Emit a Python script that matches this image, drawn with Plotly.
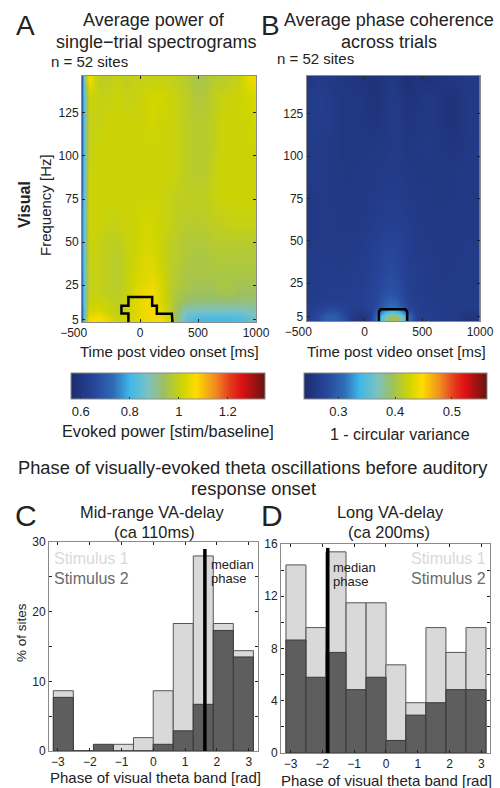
import plotly.graph_objects as go

# ---- data ----
freq_rows = [5, 10, 15, 20, 25, 30, 40, 50, 60, 75, 90, 105, 120, 135, 145]
time_a = [-496, -478, -440, -350, -275, -200, -125, -50, 25, 100, 175, 250, 325, 400, 475, 550, 625, 700, 775, 850, 925, 990]
power = [
 [.70, .94, 1.06, 1.07, 1.04, 1.01, 1.02, 1.03, 1.05, 1.06, 1.06, 1.03, .92, .84, .82, .81, .81, .81, .81, .82, .84, .86],
 [.72, .90, 1.02, 1.03, 1.01, .99, 1.01, 1.03, 1.05, 1.06, 1.04, 1.00, .93, .88, .87, .87, .87, .87, .87, .87, .88, .89],
 [.74, .90, 1.01, 1.01, 1.00, .99, 1.00, 1.03, 1.05, 1.06, 1.03, .99, .95, .93, .92, .92, .92, .92, .92, .92, .92, .92],
 [.74, .90, 1.00, 1.00, .99, .99, 1.00, 1.03, 1.05, 1.06, 1.03, .99, .96, .95, .94, .94, .94, .95, .95, .94, .94, .94],
 [.74, .90, 1.00, 1.00, .99, .98, 1.00, 1.02, 1.04, 1.05, 1.03, .99, .97, .96, .95, .95, .95, .96, .96, .95, .95, .95],
 [.74, .90, 1.00, 1.00, .99, .98, 1.00, 1.02, 1.03, 1.04, 1.02, .99, .97, .96, .96, .96, .96, .96, .96, .96, .96, .96],
 [.75, .90, 1.00, 1.00, .99, .98, 1.00, 1.01, 1.03, 1.03, 1.01, .99, .98, .97, .96, .96, .97, .97, .97, .97, .97, .97],
 [.75, .90, 1.01, 1.00, .99, .99, 1.00, 1.01, 1.02, 1.02, 1.01, .99, .98, .97, .97, .97, .98, .98, .98, .98, .98, .98],
 [.75, .90, 1.01, 1.01, 1.00, 1.00, 1.01, 1.01, 1.02, 1.02, 1.01, 1.00, .99, .98, .98, .98, .99, .99, 1.00, 1.00, 1.00, 1.00],
 [.74, .90, 1.01, 1.01, 1.01, 1.01, 1.01, 1.01, 1.01, 1.01, 1.01, 1.00, .99, .99, .99, .99, 1.00, 1.01, 1.01, 1.01, 1.01, 1.01],
 [.73, .90, 1.01, 1.01, 1.01, 1.01, 1.01, 1.01, 1.01, 1.01, 1.01, 1.01, 1.00, .99, .98, .98, 1.00, 1.01, 1.01, 1.01, 1.01, 1.01],
 [.72, .90, 1.00, 1.01, 1.01, 1.01, 1.01, 1.01, 1.01, 1.01, 1.01, 1.01, 1.00, .99, .98, .98, .99, 1.01, 1.01, 1.01, 1.01, 1.01],
 [.72, .90, 1.00, 1.00, 1.01, 1.01, 1.01, 1.01, 1.01, 1.02, 1.01, 1.01, 1.00, .99, .98, .98, .99, 1.01, 1.01, 1.01, 1.01, 1.02],
 [.72, .90, 1.01, 1.00, 1.00, 1.01, 1.00, 1.00, 1.01, 1.02, 1.02, 1.01, 1.00, .99, .97, .97, .99, 1.00, 1.01, 1.01, 1.02, 1.03],
 [.70, .96, 1.06, .99, .99, 1.00, .99, 1.00, 1.00, 1.00, 1.00, 1.00, .99, .98, .96, .96, .98, .98, .99, 1.00, 1.04, 1.05],
]
time_b = [-475, -400, -325, -250, -175, -100, -25, 50, 125, 175, 225, 275, 325, 375, 450, 525, 600, 675, 750, 825, 900, 975]
coherence = [
 [.272, .285, .300, .298, .282, .262, .252, .270, .330, .370, .400, .395, .370, .315, .272, .268, .265, .262, .262, .260, .252, .256],
 [.268, .272, .278, .278, .272, .268, .268, .274, .290, .305, .315, .310, .295, .280, .270, .266, .265, .264, .264, .264, .262, .262],
 [.264, .266, .268, .268, .268, .268, .270, .274, .284, .294, .300, .296, .284, .274, .268, .266, .264, .264, .264, .264, .264, .264],
 [.264, .264, .266, .266, .266, .268, .270, .274, .280, .286, .288, .286, .280, .272, .266, .264, .264, .262, .262, .262, .264, .264],
 [.262, .264, .266, .266, .266, .266, .268, .272, .278, .284, .286, .284, .278, .270, .266, .264, .262, .262, .262, .262, .262, .262],
 [.262, .264, .266, .264, .264, .266, .268, .272, .276, .282, .284, .282, .276, .270, .266, .264, .262, .260, .262, .262, .262, .262],
 [.262, .264, .264, .264, .264, .264, .266, .270, .274, .278, .280, .278, .274, .268, .264, .262, .262, .260, .260, .262, .262, .262],
 [.260, .262, .264, .262, .262, .262, .264, .268, .272, .274, .276, .274, .272, .268, .264, .262, .260, .260, .260, .260, .262, .262],
 [.260, .262, .262, .262, .260, .260, .262, .264, .268, .270, .270, .270, .268, .266, .262, .260, .260, .260, .260, .260, .260, .260],
 [.260, .262, .262, .260, .260, .260, .260, .262, .264, .266, .266, .266, .264, .262, .260, .260, .258, .258, .258, .260, .260, .260],
 [.262, .262, .262, .260, .258, .258, .260, .260, .262, .262, .264, .262, .262, .260, .258, .258, .258, .258, .258, .260, .260, .260],
 [.262, .264, .262, .260, .256, .258, .258, .258, .258, .260, .262, .262, .260, .256, .258, .260, .258, .256, .254, .256, .260, .262],
 [.264, .266, .264, .260, .256, .258, .256, .254, .254, .258, .262, .262, .258, .254, .256, .258, .258, .254, .250, .254, .260, .262],
 [.264, .268, .264, .260, .256, .258, .256, .252, .250, .256, .262, .262, .256, .252, .254, .258, .258, .254, .250, .254, .260, .262],
 [.258, .262, .262, .258, .256, .254, .252, .250, .252, .256, .258, .256, .250, .246, .252, .250, .252, .254, .256, .258, .260, .260],
]
contour_a_t = [-100, -100, -160, -160, -100, -100, 105, 105, 145, 145, 275, 280]
contour_a_f = [3.5, 8.5, 8.5, 13, 13, 18, 18, 13, 13, 8.3, 8.3, 3.5]
contour_b_t = [125, 125, 140, 355, 370, 370]
contour_b_f = [2.6, 8, 9.5, 9.5, 8, 2.6]

phase_bins = [-2.83, -2.2, -1.57, -0.94, -0.31, 0.31, 0.94, 1.57, 2.2, 2.83]
c_stim1 = [8.65, 0, 0, 0.96, 1.92, 8.65, 18.3, 28.0, 18.3, 14.4]
c_stim2 = [7.7, 0, 0.96, 0, 0, 0.96, 2.9, 6.7, 17.3, 13.5]
d_stim1 = [14.4, 9.6, 15.4, 11.5, 11.5, 6.75, 3.85, 9.6, 7.7, 9.6]
d_stim2 = [8.65, 5.8, 7.7, 4.85, 5.8, 0.96, 2.9, 3.85, 4.85, 4.85]
c_median = 1.62
c_median_top = 29
d_median = -1.83
d_median_top = 15.7

jet = [[0, "#1c2c6e"], [0.12, "#27459a"], [0.22, "#2f6cb8"], [0.305, "#3fb8ea"],
       [0.40, "#7cc2c0"], [0.48, "#9cc060"], [0.575, "#cfd500"], [0.645, "#ffdc00"],
       [0.745, "#f08a20"], [0.82, "#e63a1c"], [0.88, "#de1014"], [1, "#661410"]]

W, H = 500, 788
INK = "#222222"
FONT = "Liberation Sans"
AXC = "#8a8a8a"


def dx(a, b):
    return [a / W, b / W]


def dy(top, bottom):
    return [1 - bottom / H, 1 - top / H]


fig = go.Figure()

# spectrogram panels
fig.add_trace(go.Heatmap(
    x=time_a, y=freq_rows, z=power, zmin=0.56, zmax=1.352, zsmooth="best", colorscale=jet,
    xaxis="x", yaxis="y",
    colorbar=dict(orientation="h", x=168 / W, xanchor="center", y=1 - 373 / H, yanchor="top",
                  lenmode="pixels", len=194, thickness=26, xpad=0, ypad=0,
                  outlinecolor=AXC, outlinewidth=1, ticks="inside", ticklen=2, tickcolor="#222",
                  tickvals=[0.6, 0.8, 1, 1.2], ticktext=["0.6", "0.8", "1", "1.2"],
                  tickfont=dict(size=13, color=INK, family=FONT))))
fig.add_trace(go.Heatmap(
    x=time_b, y=freq_rows, z=coherence, zmin=0.2395, zmax=0.562, zsmooth="best", colorscale=jet,
    xaxis="x2", yaxis="y2",
    colorbar=dict(orientation="h", x=395.5 / W, xanchor="center", y=1 - 373 / H, yanchor="top",
                  lenmode="pixels", len=183, thickness=26, xpad=0, ypad=0,
                  outlinecolor=AXC, outlinewidth=1, ticks="inside", ticklen=2, tickcolor="#222",
                  tickvals=[0.3, 0.4, 0.5], ticktext=["0.3", "0.4", "0.5"],
                  tickfont=dict(size=13, color=INK, family=FONT))))
fig.add_trace(go.Scatter(x=contour_a_t, y=contour_a_f, mode="lines", line=dict(color="black", width=2.5),
                         xaxis="x", yaxis="y", showlegend=False))
fig.add_trace(go.Scatter(x=contour_b_t, y=contour_b_f, mode="lines", line=dict(color="black", width=2.5),
                         xaxis="x2", yaxis="y2", showlegend=False))

# histograms
for xa, ya, s1, s2, med, top in [("x3", "y3", c_stim1, c_stim2, c_median, c_median_top),
                                 ("x4", "y4", d_stim1, d_stim2, d_median, d_median_top)]:
    fig.add_trace(go.Bar(x=phase_bins, y=s1, width=0.628, marker=dict(color="#d9d9d9", line=dict(color="#555555", width=1)),
                         xaxis=xa, yaxis=ya, showlegend=False))
    fig.add_trace(go.Bar(x=phase_bins, y=s2, width=0.628, marker=dict(color="#5e5e5e", line=dict(color="#3a3a3a", width=1)),
                         xaxis=xa, yaxis=ya, showlegend=False))
    fig.add_trace(go.Scatter(x=[med, med], y=[0, top], mode="lines", line=dict(color="black", width=3.5),
                             xaxis=xa, yaxis=ya, showlegend=False))

tick_common = dict(ticks="inside", ticklen=3, tickcolor="#222", tickwidth=1, showline=True, linecolor=AXC,
                   linewidth=1, mirror="allticks", showgrid=False, zeroline=False,
                   tickfont=dict(size=12, color=INK, family=FONT))
time_vals = [-500, 0, 500, 1000]
time_text = ["\u2212500\u00a0\u00a0\u00a0\u00a0\u00a0", "0", "500", "1000"]
freq_vals = [5, 25, 50, 75, 100, 125]
phase_vals = [-3, -2, -1, 0, 1, 2, 3]
phase_text = ["\u22123", "\u22122", "\u22121", "0", "1", "2", "3"]

fig.update_layout(
    width=W, height=H, autosize=False, margin=dict(l=0, r=0, t=0, b=0, autoexpand=False), barmode="overlay",
    paper_bgcolor="white", plot_bgcolor="white", font=dict(family=FONT, color=INK),
    xaxis=dict(domain=dx(82, 256), range=[-500, 1000], tickvals=time_vals, ticktext=time_text, anchor="y", **tick_common),
    yaxis=dict(domain=dy(76, 322), range=[3.5, 146.5], tickvals=freq_vals, anchor="x", **tick_common),
    xaxis2=dict(domain=dx(306.7, 480), range=[-500, 1000], tickvals=time_vals, ticktext=time_text, anchor="y2", **tick_common),
    yaxis2=dict(domain=dy(76, 321), range=[2.6, 147.4], tickvals=freq_vals, anchor="x2", **tick_common),
    xaxis3=dict(domain=dx(49, 258), range=[-3.28, 3.29], tickvals=phase_vals, ticktext=phase_text, anchor="y3", **tick_common),
    yaxis3=dict(domain=dy(542, 751), range=[0, 30], tickvals=[0, 5, 10, 15, 20, 25, 30],
                ticktext=["0", "", "10", "", "20", "", "30"], anchor="x3", **tick_common),
    xaxis4=dict(domain=dx(281, 490), range=[-3.3, 3.27], tickvals=phase_vals, ticktext=phase_text, anchor="y4", **tick_common),
    yaxis4=dict(domain=dy(544, 753), range=[0, 16], tickvals=[0, 2, 4, 6, 8, 10, 12, 14, 16],
                ticktext=["0", "", "4", "", "8", "", "12", "", "16"], anchor="x4", **tick_common),
)


def label(x, y, text, size, color=INK, anchor="center", **kw):
    fig.add_annotation(xref="paper", yref="paper", x=x / W, y=1 - y / H, text=text, showarrow=False,
                       xanchor=anchor, yanchor="middle", align=anchor if anchor != "center" else "center",
                       font=dict(size=size, color=color, family=FONT), **kw)


for x, y, t in [(25, 25, "A"), (270.5, 25, "B"), (25.5, 515, "C"), (272, 515, "D")]:
    label(x, y, t, 30 if t in "CD" else 28)
label(153.7, 20, "Average power of", 18)
label(156, 42, "single\u2212trial spectrograms", 18)
label(49, 61, "n = 52 sites", 15, anchor="left")
label(389, 20, "Average phase coherence", 18)
label(389, 42, "across trials", 18)
label(275, 59, "n = 52 sites", 15, anchor="left")
label(24, 205, "<b>Visual</b>", 16, textangle=-90)
label(45, 205, "Frequency [Hz]", 15, textangle=-90)
label(169, 351, "Time post video onset [ms]", 15)
label(396, 351, "Time post video onset [ms]", 15)
label(168, 431, "Evoked power [stim/baseline]", 16.3)
label(400, 434, "1 - circular variance", 16)
label(253, 467.5, "Phase of visually-evoked theta oscillations before auditory", 18.3)
label(253, 488.5, "response onset", 18.3)
label(151.5, 512, "Mid-range VA-delay", 16.4)
label(154, 532, "(ca 110ms)", 16.4)
label(390, 512, "Long VA-delay", 16.4)
label(389, 532, "(ca 200ms)", 16.4)
label(21, 633, "% of sites", 13.5, textangle=-90)
label(155, 777, "Phase of visual theta band [rad]", 15)
label(386, 780, "Phase of visual theta band [rad]", 15)
label(52, 558, "Stimulus 1", 16, color="#d9d9d9", anchor="left")
label(52, 578, "Stimulus 2", 16, color="#6a6a6a", anchor="left")
label(209, 564, "median", 13, anchor="left")
label(209, 578, "phase", 13, anchor="left")
label(488, 558, "Stimulus 1", 16, color="#d9d9d9", anchor="right")
label(488, 578, "Stimulus 2", 16, color="#6a6a6a", anchor="right")
label(331, 567, "median", 13, anchor="left")
label(331, 581, "phase", 13, anchor="left")

fig.write_html("out.html", config=dict(displayModeBar=False), post_script="document.body.style.margin='0';")
